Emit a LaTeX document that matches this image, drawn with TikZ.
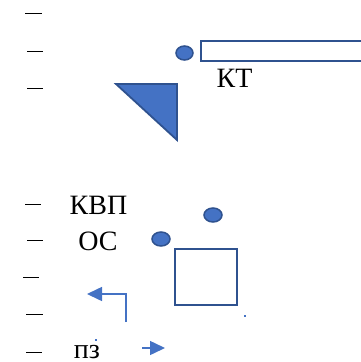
\documentclass[tikz,border=0pt]{standalone}
\usepackage{fontspec}
\setmainfont{Liberation Serif}
\usepackage{xcolor}
\usetikzlibrary{arrows.meta,calc}
\definecolor{fillblue}{HTML}{4472C4}
\definecolor{edgeblue}{HTML}{2F528F}
\tikzset{
  dashmark/.style={line width=0.9pt,black},
  lbl/.style={inner sep=0pt,font=\fontsize{28}{30}\selectfont},
  blob/.style={ellipse,fill=fillblue,draw=edgeblue,line width=1.5pt,inner sep=0pt},
  frame/.style={draw=edgeblue,line width=1.8pt,fill=white},
  blueline/.style={draw=fillblue,line width=1.5pt,-{Triangle[length=15pt,width=14pt]}},
  speck/.style={fill=fillblue,inner sep=0pt,minimum size=2pt}
}
\usetikzlibrary{shapes.geometric}
\begin{document}
\begin{tikzpicture}[x=1pt,y=-1pt,line cap=butt,line join=miter]
\useasboundingbox (0,0) rectangle (361,362);
% dashes on the left
\foreach \xa/\xb/\yy in {25/42/13,27/43/51,27/43/88,25/41/204,27/43/240,23/39/277,26/43/314,26/42/352}
  \draw [dashmark] (\xa,\yy) -- (\xb,\yy);
% upper part
\node [blob,minimum width=17pt,minimum height=14pt] (dotA) at (184.5,53) {};
\draw [frame] (201,41) rectangle (364,61);
\node [lbl] (kt) at (234.5,78) {КТ};
\filldraw [fill=fillblue,draw=edgeblue,line width=1.8pt] (116,84) -- (177,84) -- (177,140) -- cycle;
% lower part
\node [lbl] (kvp) at (98.5,205) {КВП};
\node [lbl] (os) at (98,241) {ОС};
\node [lbl,anchor=base] (pz) at (87,358) {пз};
\node [blob,minimum width=18pt,minimum height=14pt] (dotB) at (213,215) {};
\node [blob,minimum width=18pt,minimum height=14pt] (dotC) at (161,239) {};
\draw [frame,fill=none] (175,249) rectangle (237,305);
\node [speck] (speckA) at (245,316) {};
\node [speck] (speckB) at (96,340) {};
% arrows
\coordinate (elbowS) at (126,322);
\coordinate (elbowE) at (87,294);
\draw [blueline] (elbowS) |- (elbowE);
\coordinate (rightS) at (142,348);
\coordinate (rightE) at (165,348);
\draw [blueline] (rightS) -- (rightE);
\end{tikzpicture}
\end{document}
